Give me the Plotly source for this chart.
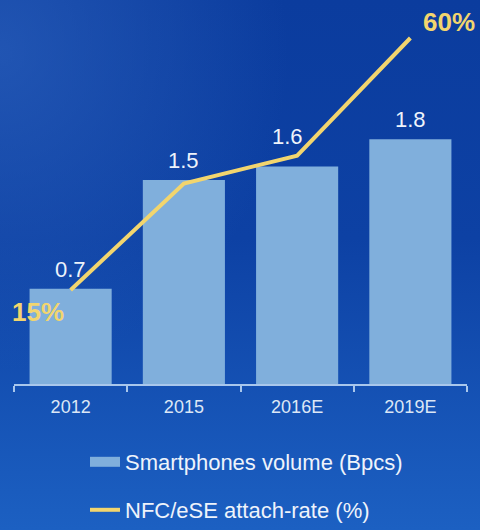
import base64
import plotly.graph_objects as go

# ---- data ----
categories = ["2012", "2015", "2016E", "2019E"]
smartphone_volume = [0.7, 1.5, 1.6, 1.8]          # billions of pieces
attach_rate = [15, 34, 39, 60]                    # NFC/eSE attach-rate, %
rate_labelled = [True, False, False, True]

bar_name = "Smartphones volume (Bpcs)"
line_name = "NFC/eSE attach-rate (%)"

# ---- style ----
FONT = "Liberation Sans, Arial, sans-serif"
BAR_COLOR = "#80afdc"
LINE_COLOR = "#f2d56e"
TEXT_COLOR = "#eef3fb"
AXIS_COLOR = "#a9c7ec"

W, H = 480, 530
M = dict(l=14, r=13, t=10, b=146, autoexpand=False)

# blue gradient backdrop as an inline SVG
svg = f"""<svg xmlns='http://www.w3.org/2000/svg' width='{W}' height='{H}'>
<defs>
<linearGradient id='g' x1='0' y1='0' x2='0' y2='1'>
<stop offset='0' stop-color='#0b3c9e'/>
<stop offset='0.45' stop-color='#0d41a4'/>
<stop offset='1' stop-color='#1c60c2'/>
</linearGradient>
<radialGradient id='r' cx='0' cy='0.1' r='0.6'>
<stop offset='0' stop-color='#2a5fbb' stop-opacity='0.7'/>
<stop offset='1' stop-color='#2a5fbb' stop-opacity='0'/>
</radialGradient>
</defs>
<rect width='100%' height='100%' fill='url(#g)'/>
<rect width='100%' height='100%' fill='url(#r)'/>
</svg>"""
bg_src = "data:image/svg+xml;base64," + base64.b64encode(svg.encode()).decode()

pw = W - M["l"] - M["r"]
ph = H - M["t"] - M["b"]

fig = go.Figure()

fig.add_trace(go.Bar(
    x=categories, y=smartphone_volume, name=bar_name,
    marker=dict(color=BAR_COLOR, line=dict(width=0)),
    showlegend=False, hoverinfo="skip",
))

# legend swatch for the bars (wide flat bar-coloured key)
fig.add_trace(go.Scatter(
    x=[None], y=[None], mode="lines", name=bar_name,
    line=dict(color=BAR_COLOR, width=10), legend="legend",
))

fig.add_trace(go.Scatter(
    x=categories, y=attach_rate, name=line_name, yaxis="y2",
    mode="lines", line=dict(color=LINE_COLOR, width=4),
    legend="legend2", hoverinfo="skip",
))

# annotations on a category axis are placed by category index
annotations = []
label_shift = [(0, 5), (0, 5), (-10, 15), (0, 5)]
for i, (v, (dx, dy)) in enumerate(zip(smartphone_volume, label_shift)):
    annotations.append(dict(
        x=i, y=v, xref="x", yref="y", text=f"{v:.1f}", showarrow=False,
        xanchor="center", yanchor="bottom", xshift=dx, yshift=dy,
        font=dict(family=FONT, size=22, color=TEXT_COLOR),
    ))

rate_offsets = [(-5, -22, "right"), None, None, (11, 16, "left")]
for i, (v, show, off) in enumerate(zip(attach_rate, rate_labelled, rate_offsets)):
    if not show:
        continue
    dx, dy, anchor = off
    annotations.append(dict(
        x=i, y=v, xref="x", yref="y2", text=f"<b>{v}%</b>", showarrow=False,
        xanchor=anchor, yanchor="middle", xshift=dx, yshift=dy,
        font=dict(family=FONT, size=26, color=LINE_COLOR),
    ))

legend_common = dict(
    xref="container", yref="container", xanchor="left", yanchor="middle",
    bgcolor="rgba(0,0,0,0)", borderwidth=0,
    font=dict(family=FONT, size=22, color=TEXT_COLOR),
)

fig.update_layout(
    width=W, height=H, margin=M,
    paper_bgcolor="#0f46a8", plot_bgcolor="rgba(0,0,0,0)",
    bargap=0.275,
    showlegend=True,
    legend=dict(x=85 / W, y=1 - 462 / H, **legend_common),
    legend2=dict(x=85 / W, y=1 - 510 / H, **legend_common),
    xaxis=dict(
        type="category", range=[-0.5, 3.5], tickson="boundaries",
        showline=True, linecolor=AXIS_COLOR, linewidth=2,
        ticks="outside", ticklen=6, tickwidth=2, tickcolor=AXIS_COLOR,
        ticklabelstandoff=5,
        showgrid=False, zeroline=False, automargin=False,
        tickfont=dict(family=FONT, size=18, color="#dce7f6"),
    ),
    yaxis=dict(range=[0, ph / 136], visible=False, fixedrange=True),
    yaxis2=dict(range=[15 - (384 - 290) / 5.6, 15 - (384 - 290) / 5.6 + ph / 5.6],
                overlaying="y", visible=False),
    annotations=annotations,
    images=[dict(
        source=bg_src, xref="paper", yref="paper",
        x=-M["l"] / pw, y=1 + M["t"] / ph,
        sizex=W / pw, sizey=H / ph, sizing="stretch",
        xanchor="left", yanchor="top", layer="below",
    )],
)

fig.write_html("out.html")
